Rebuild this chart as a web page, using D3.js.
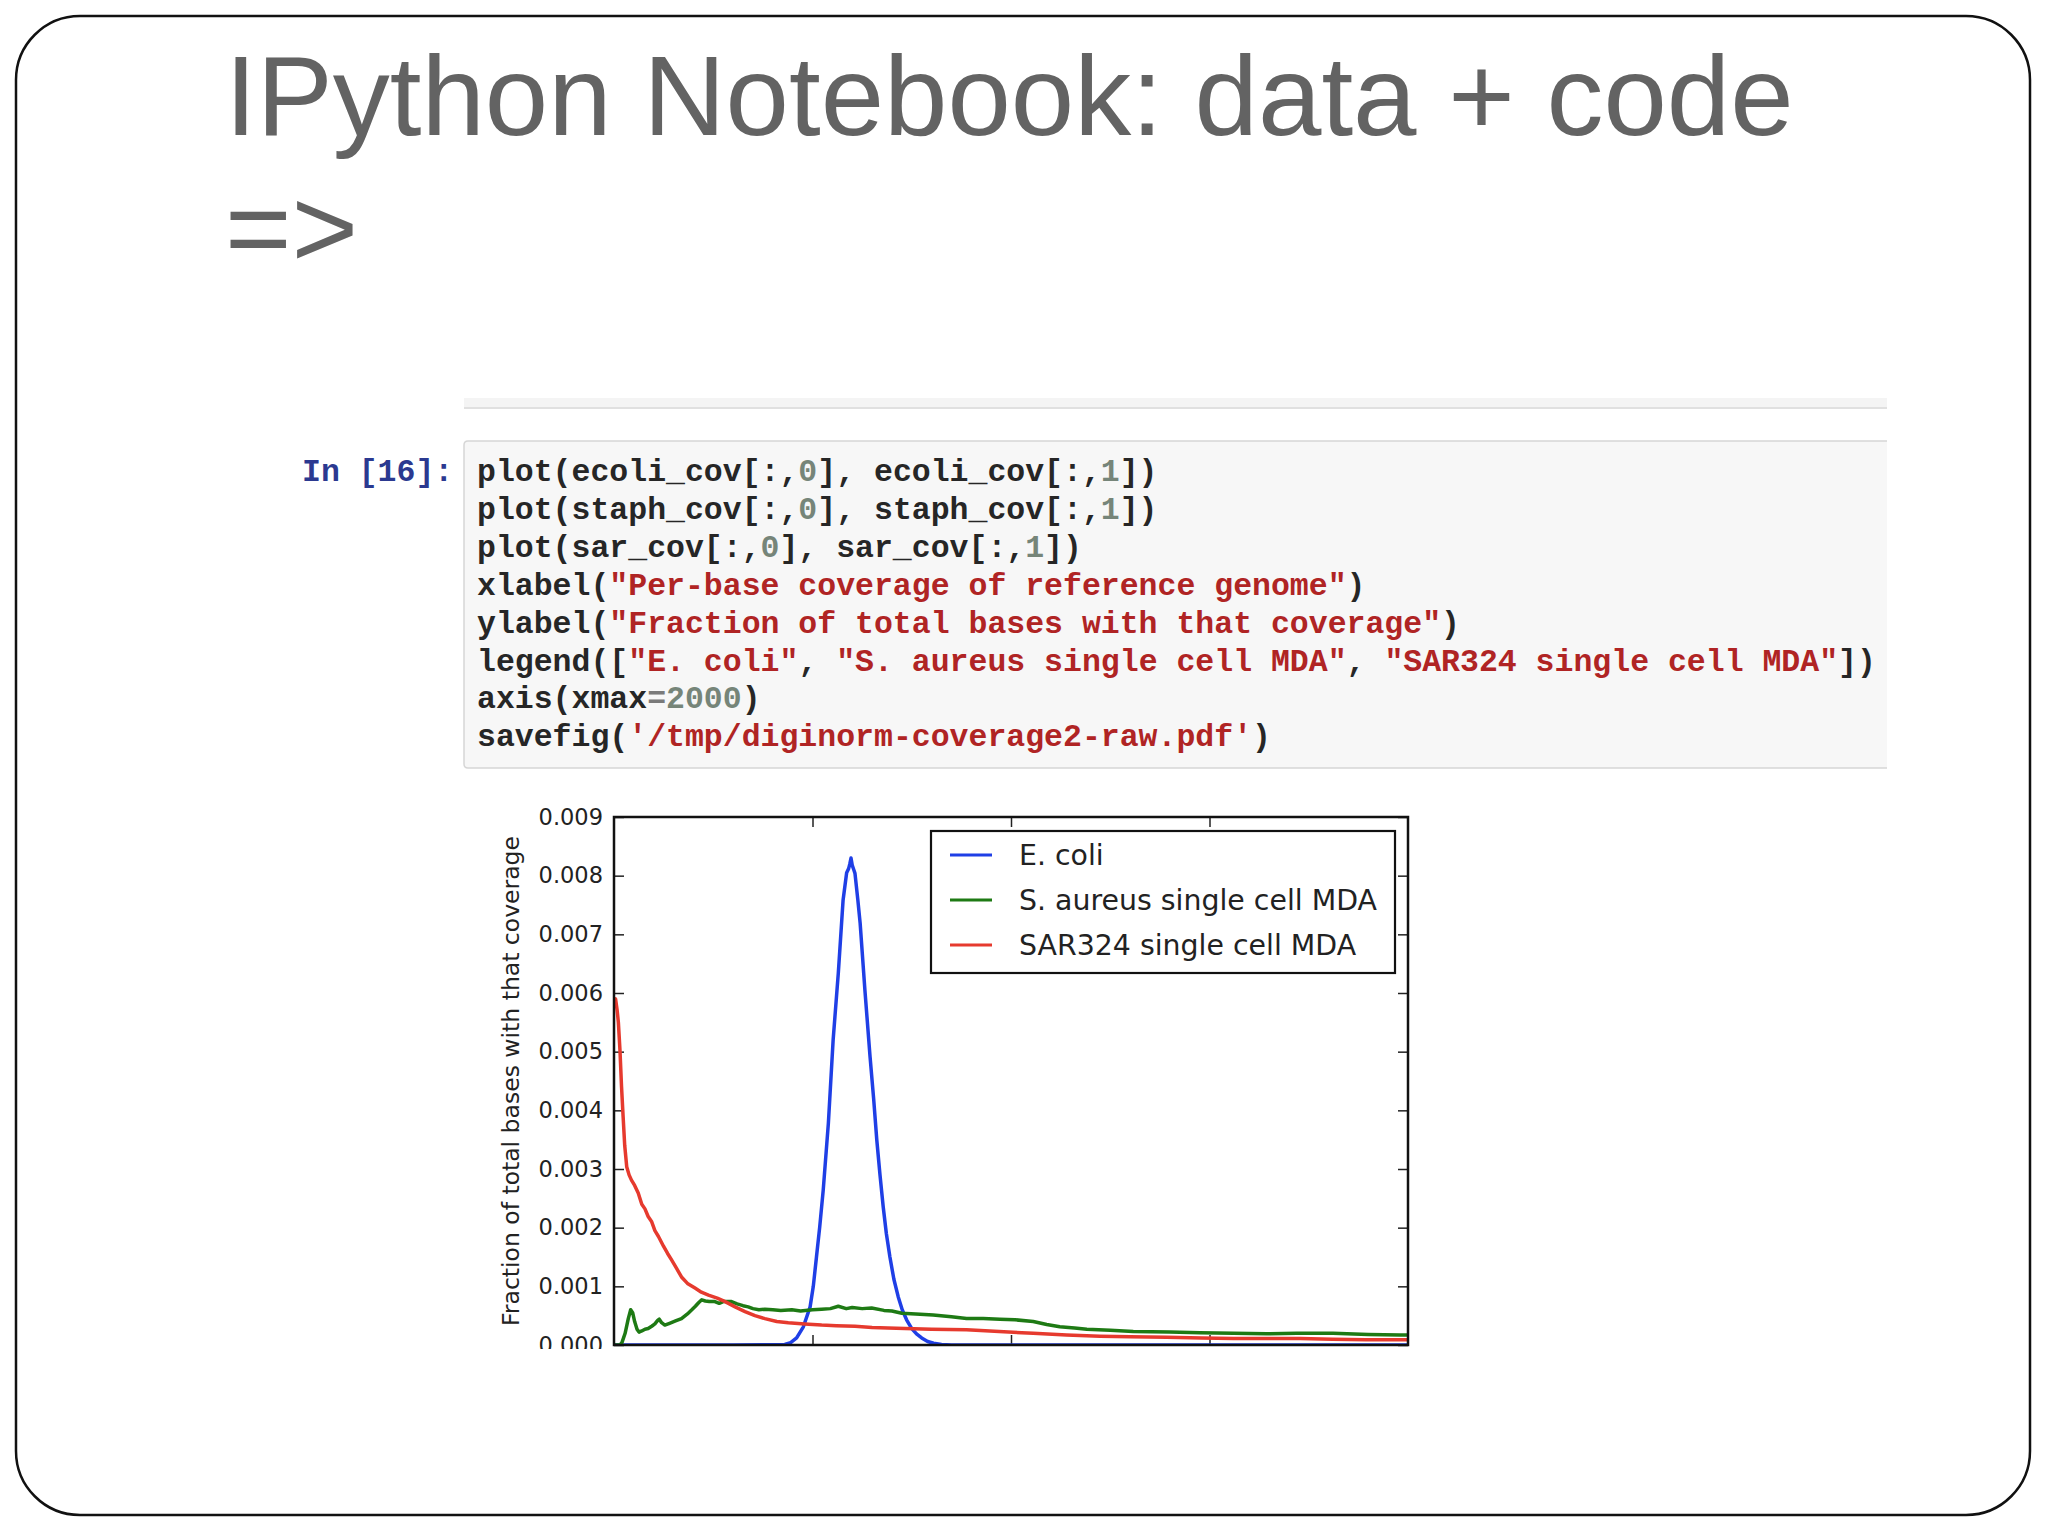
<!DOCTYPE html>
<html><head><meta charset="utf-8">
<script src="https://cdn.jsdelivr.net/npm/d3@7"></script>
<style>html,body{margin:0;padding:0;background:#fff;} svg{display:block;} text{white-space:pre;}</style>
</head><body>
<svg id="chart" width="2048" height="1536"></svg>
<script>
// ---------- data ----------
const titleLines = ["IPython Notebook: data + code", "=>"];
const promptLabel = "In [16]:";
const codeLines = [
  [["plot(ecoli_cov[:,","k"],["0","n"],["], ecoli_cov[:,","k"],["1","n"],["])","k"]],
  [["plot(staph_cov[:,","k"],["0","n"],["], staph_cov[:,","k"],["1","n"],["])","k"]],
  [["plot(sar_cov[:,","k"],["0","n"],["], sar_cov[:,","k"],["1","n"],["])","k"]],
  [["xlabel(","k"],["\"Per-base coverage of reference genome\"","s"],[")","k"]],
  [["ylabel(","k"],["\"Fraction of total bases with that coverage\"","s"],[")","k"]],
  [["legend([","k"],["\"E. coli\"","s"],[", ","k"],["\"S. aureus single cell MDA\"","s"],[", ","k"],["\"SAR324 single cell MDA\"","s"],["])","k"]],
  [["axis(xmax","k"],["=","o"],["2000","n"],[")","k"]],
  [["savefig(","k"],["'/tmp/diginorm-coverage2-raw.pdf'","s"],[")","k"]]
];
const seriesNames = ["E. coli", "S. aureus single cell MDA", "SAR324 single cell MDA"];
const yLabel = "Fraction of total bases with that coverage";
const yTickValues = [0, 0.001, 0.002, 0.003, 0.004, 0.005, 0.006, 0.007, 0.008, 0.009];
const xTickValues = [500, 1000, 1500];

const ecoliCoverage = [0,300,430,445,460,477,494,502,510,518,527,540,552,565,577,586,591,594,597,600,604,607,614,620,632,645,654,662,670,678,686,695,705,716,726,737,750,762,775,790,805,825,850,2000];
const ecoliFraction = [0,0,0.00001,0.00004,0.00012,0.00031,0.00065,0.0010,0.0015,0.0020,0.00264,0.00378,0.0052,0.00634,0.00758,0.00805,0.00812,0.0082,0.0083,0.00818,0.0081,0.00804,0.0076,0.00719,0.00605,0.00491,0.0042,0.00349,0.0029,0.00236,0.0019,0.0015,0.00112,0.00082,0.0006,0.00043,0.00028,0.00019,0.00012,0.00006,0.00003,0.00001,0,0];

const staphCoverage = [0,15,20,28,36,42,47,52,58,63,70,78,86,95,103,110,114,120,128,140,155,170,185,196,205,213,221,230,240,254,265,275,296,310,325,338,350,365,380,400,420,448,470,500,523,545,565,585,600,625,649,680,700,725,760,804,850,888,930,972,1010,1056,1090,1123,1160,1191,1250,1308,1400,1476,1560,1644,1720,1811,1900,1980,2000];
const staphFraction = [0,0,0.00004,0.0002,0.00045,0.0006,0.00055,0.0004,0.00027,0.00022,0.00024,0.00027,0.00028,0.00032,0.00036,0.00042,0.00044,0.00038,0.00034,0.00037,0.00041,0.00045,0.00053,0.0006,0.00066,0.00072,0.00077,0.00075,0.00074,0.00074,0.00071,0.00074,0.00074,0.0007,0.00067,0.00065,0.00062,0.0006,0.00061,0.0006,0.00059,0.0006,0.00058,0.0006,0.00061,0.00062,0.00066,0.00062,0.00064,0.00062,0.00063,0.00059,0.00058,0.00054,0.00053,0.00051,0.00048,0.00045,0.00045,0.00044,0.00043,0.0004,0.00035,0.00031,0.00029,0.00027,0.00025,0.00023,0.00022,0.00021,0.0002,0.00019,0.0002,0.0002,0.00018,0.00017,0.00017];

const sarCoverage = [0,4,8,11,15,19,23,27,32,38,44,52,61,70,78,86,95,103,112,125,135,145,158,170,185,204,220,238,260,280,305,330,355,380,410,439,480,523,560,607,650,690,733,800,888,970,1056,1140,1224,1300,1392,1480,1560,1650,1728,1810,1895,2000];
const sarFraction = [0.0058,0.0059,0.0057,0.0055,0.00503,0.0044,0.00389,0.0034,0.00304,0.0029,0.00281,0.00272,0.00259,0.0024,0.00232,0.00219,0.0021,0.00195,0.00185,0.00168,0.00156,0.00145,0.0013,0.00116,0.00105,0.00097,0.0009,0.00085,0.0008,0.00074,0.00065,0.00057,0.0005,0.00045,0.0004,0.00038,0.00036,0.00034,0.00033,0.00032,0.0003,0.00029,0.00028,0.00027,0.00026,0.00023,0.0002,0.00017,0.00015,0.00014,0.00013,0.00012,0.00011,0.00011,0.00011,0.0001,0.00009,0.00009];

const seriesColors = ["#1f3fe6", "#1e7a14", "#e63a2e"];

// ---------- drawing ----------
const svg = d3.select("#chart");

// slide frame
svg.append("rect").attr("x",16).attr("y",16).attr("width",2014).attr("height",1499)
  .attr("rx",64).attr("ry",64).attr("fill","#fff").attr("stroke","#111").attr("stroke-width",2.5);

// title
svg.append("g").selectAll("text").data(titleLines).join("text")
  .attr("x",225).attr("y",(d,i)=>135 + i*132)
  .attr("font-family","'Liberation Sans', Arial, sans-serif").attr("font-size",114)
  .attr("fill","#636363").text(d=>d);

// previous cell remnant
svg.append("rect").attr("x",464).attr("y",398).attr("width",1423).attr("height",10).attr("fill","#f4f4f4");
svg.append("line").attr("x1",464).attr("x2",1887).attr("y1",408).attr("y2",408).attr("stroke","#e0e0e0").attr("stroke-width",2);

// code cell
svg.append("path").attr("d","M1887,441 H468 Q464,441 464,445 V764 Q464,768 468,768 H1887")
  .attr("fill","#f7f7f7").attr("stroke","#d6d6d6").attr("stroke-width",1.5);

const codeFont = "'Liberation Mono', 'Courier New', monospace";
svg.append("text").attr("x",302).attr("y",481).attr("font-family",codeFont).attr("font-size",31.5)
  .attr("font-weight","bold").attr("fill","#2b3990").text(promptLabel);

const tokenColor = {k:"#262626", s:"#b02424", n:"#768579", o:"#7a7a7a"};
const codeG = svg.append("g").attr("font-family",codeFont).attr("font-size",31.5).attr("font-weight","bold");
codeG.selectAll("text").data(codeLines).join("text")
  .attr("x",477).attr("y",(d,i)=>481 + i*37.9)
  .selectAll("tspan").data(d=>d).join("tspan")
  .attr("fill",d=>tokenColor[d[1]]).text(d=>d[0]);

// ---------- plot ----------
const pLeft = 614, pRight = 1408, pTop = 817, pBottom = 1345;
const x = d3.scaleLinear().domain([0,2000]).range([pLeft,pRight]);
const y = d3.scaleLinear().domain([0,0.009]).range([pBottom,pTop]);

svg.append("clipPath").attr("id","imgclip").append("rect")
  .attr("x",0).attr("y",780).attr("width",2048).attr("height",569);
svg.append("clipPath").attr("id","plotclip").append("rect")
  .attr("x",pLeft).attr("y",pTop).attr("width",pRight-pLeft).attr("height",pBottom-pTop+1);

const plot = svg.append("g").attr("clip-path","url(#imgclip)");

const plotFont = "'DejaVu Sans', sans-serif";
const yAxis = d3.axisLeft(y).tickValues(yTickValues).tickFormat(d3.format(".3f"))
  .tickSizeInner(-10).tickSizeOuter(0).tickPadding(11);
const gy = plot.append("g").attr("transform",`translate(${pLeft},0)`).call(yAxis);
gy.select(".domain").remove();
gy.selectAll("text").attr("font-family",plotFont).attr("font-size",22.5).attr("fill","#222");
gy.selectAll("line").attr("stroke","#222").attr("stroke-width",1.5);

const gyr = plot.append("g").attr("transform",`translate(${pRight},0)`)
  .call(d3.axisRight(y).tickValues(yTickValues).tickFormat("").tickSizeInner(-10).tickSizeOuter(0));
gyr.select(".domain").remove();
gyr.selectAll("line").attr("stroke","#222").attr("stroke-width",1.5);

const gxb = plot.append("g").attr("transform",`translate(0,${pBottom})`)
  .call(d3.axisBottom(x).tickValues(xTickValues).tickFormat("").tickSizeInner(-10).tickSizeOuter(0));
gxb.select(".domain").remove();
gxb.selectAll("line").attr("stroke","#222").attr("stroke-width",1.5);
const gxt = plot.append("g").attr("transform",`translate(0,${pTop})`)
  .call(d3.axisTop(x).tickValues(xTickValues).tickFormat("").tickSizeInner(-10).tickSizeOuter(0));
gxt.select(".domain").remove();
gxt.selectAll("line").attr("stroke","#222").attr("stroke-width",1.5);

// y label
plot.append("text").attr("transform",`translate(511,${(pTop+pBottom)/2}) rotate(-90)`)
  .attr("text-anchor","middle").attr("dominant-baseline","central")
  .attr("font-family",plotFont).attr("font-size",23.5).attr("fill","#222").text(yLabel);

// series
const series = [
  {name:seriesNames[0], xs:ecoliCoverage, ys:ecoliFraction, color:seriesColors[0]},
  {name:seriesNames[1], xs:staphCoverage, ys:staphFraction, color:seriesColors[1]},
  {name:seriesNames[2], xs:sarCoverage, ys:sarFraction, color:seriesColors[2]}
];
const line = d3.line().x(d=>x(d[0])).y(d=>y(d[1]));
const lines = plot.append("g").attr("clip-path","url(#plotclip)");
lines.selectAll("path").data(series).join("path")
  .attr("d",s=>line(s.xs.map((v,i)=>[v,s.ys[i]])))
  .attr("fill","none").attr("stroke",s=>s.color).attr("stroke-width",3.5)
  .attr("stroke-linejoin","round");

// frame
plot.append("rect").attr("x",pLeft).attr("y",pTop).attr("width",pRight-pLeft).attr("height",pBottom-pTop)
  .attr("fill","none").attr("stroke","#111").attr("stroke-width",2.5);

// legend
const lg = plot.append("g");
lg.append("rect").attr("x",931).attr("y",831).attr("width",464).attr("height",142)
  .attr("fill","#fff").attr("stroke","#111").attr("stroke-width",2.2);
const items = lg.selectAll("g.item").data(series).join("g").attr("class","item")
  .attr("transform",(d,i)=>`translate(0,${855 + i*45})`);
items.append("line").attr("x1",950).attr("x2",992).attr("y1",0).attr("y2",0)
  .attr("stroke",d=>d.color).attr("stroke-width",3);
items.append("text").attr("x",1019).attr("y",0).attr("dominant-baseline","central")
  .attr("font-family",plotFont).attr("font-size",28.4).attr("fill","#222").text(d=>d.name);
</script>
</body></html>
